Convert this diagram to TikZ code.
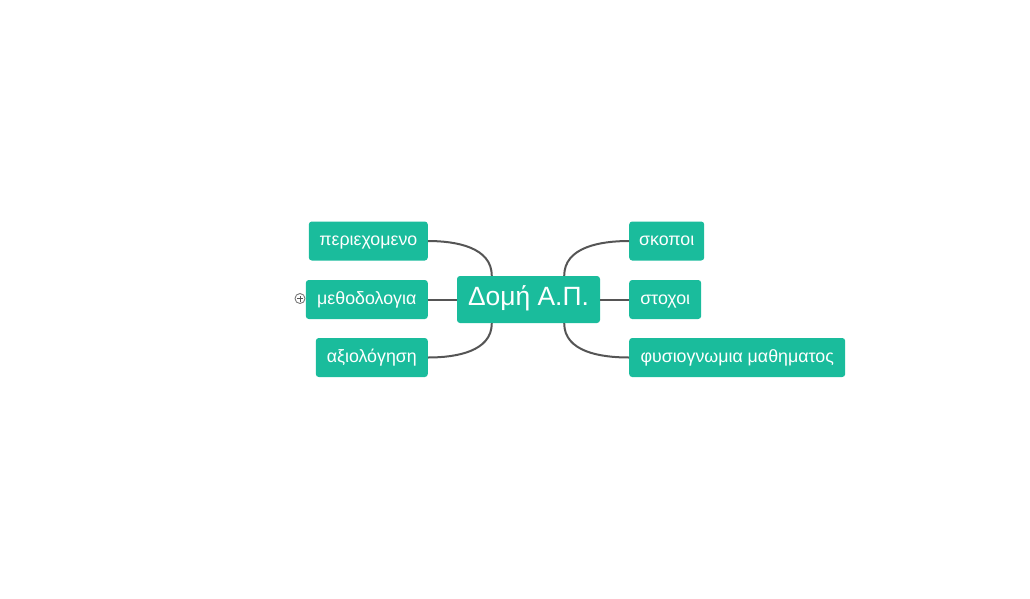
\documentclass[tikz,border=0pt]{standalone}
\usepackage{fontspec}
\setmainfont{Liberation Sans}
\definecolor{topicgreen}{HTML}{1ABC9C}
\definecolor{linkgray}{HTML}{555555}
\tikzset{
  topic/.style={fill=topicgreen, text=white, rounded corners=3pt, inner sep=0pt,
    minimum height=39pt, text height=13pt, text depth=3.7pt,
    font=\fontsize{17.8}{20}\selectfont},
  central/.style={topic, minimum height=47pt, text height=19pt, text depth=6.4pt,
    font=\fontsize{26.4}{30}\selectfont},
  link/.style={draw=linkgray, line width=2pt}
}
\begin{document}
\begin{tikzpicture}[x=1pt,y=-1pt]

        % fondo
        \useasboundingbox (0,0) rectangle (1030,598);

        % nodo centrale
        \node[central, minimum width=143pt] (dom) at (528.5,299.5) {Δομή Α.Π.};

        % rami a sinistra
        \node[topic, minimum width=119pt, anchor=east] (periex) at (428,241) {περιεχομενο};
        \node[topic, minimum width=122pt, anchor=east] (methodo) at (428,299.5) {μεθοδολογια};
        \node[topic, minimum width=112pt, anchor=east] (axiol) at (428,357.5) {αξιολόγηση};

        % rami a destra
        \node[topic, minimum width=75pt, anchor=west] (skopoi) at (629,241) {σκοποι};
        \node[topic, minimum width=72pt, anchor=west] (stoxoi) at (629,299.5) {στοχοι};
        \node[topic, minimum width=216pt, anchor=west] (fysiog) at (629,357.5) {φυσιογνωμια μαθηματος};

        % collegamenti
        \draw[link] ([xshift=35pt]dom.north west) to[out=90,in=0] (periex.east);
        \draw[link] (dom.west) -- (methodo.east);
        \draw[link] ([xshift=35pt]dom.south west) to[out=-90,in=0] (axiol.east);
        \draw[link] ([xshift=-36pt]dom.north east) to[out=90,in=180] (skopoi.west);
        \draw[link] (dom.east) -- (stoxoi.west);
        \draw[link] ([xshift=-36pt]dom.south east) to[out=-90,in=180] (fysiog.west);

        % segno piu
        \node[circle, draw=linkgray!80, line width=0.9pt, minimum size=10pt, inner sep=0pt] (plus) at (300,298.5) {};
        \draw[linkgray, line width=0.9pt] ([xshift=-3pt]plus.center) -- ([xshift=3pt]plus.center)
          ([yshift=-3pt]plus.center) -- ([yshift=3pt]plus.center);

\end{tikzpicture}
\end{document}
